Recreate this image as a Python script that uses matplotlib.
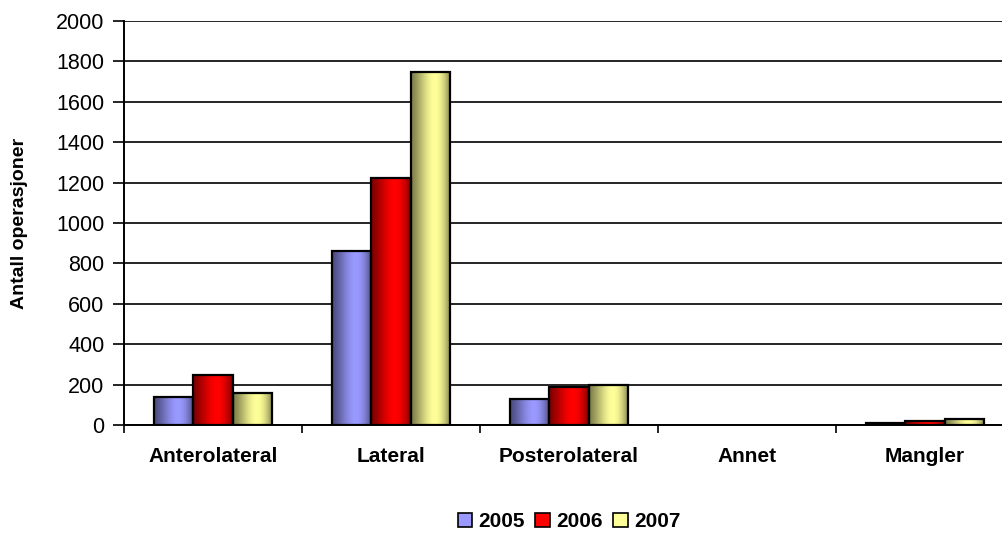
import numpy as np
import matplotlib.pyplot as plt
from matplotlib.patches import Rectangle
from matplotlib.colors import to_rgb

plt.rcParams['font.family'] = ['Liberation Sans', 'DejaVu Sans']

kategorier = ['Anterolateral', 'Lateral', 'Posterolateral', 'Annet', 'Mangler']
aar = ['2005', '2006', '2007']
v2005 = [140, 860, 130, 0, 8]
v2006 = [250, 1225, 190, 0, 20]
v2007 = [160, 1750, 200, 0, 30]
farger = ['#9999FF', '#FF0000', '#FFFF99']

fig = plt.figure(figsize=(10.03, 5.33), dpi=100)
ax = fig.add_axes([124/1003, 108/533, 890/1003, 404/533])

x = np.arange(len(kategorier))
b = 0.22
t = np.linspace(0, 1, 64)
prof = 0.5 + 0.5*np.sin(np.pi*t**1.35)

for i, (verdier, farge) in enumerate(zip([v2005, v2006, v2007], farger)):
    c = np.array(to_rgb(farge))
    img = (prof[:, None]*c[None, :])[None, :, :]
    for xi, v in zip(x, verdier):
        if v <= 0:
            continue
        x0 = xi + (i - 1.5)*b
        rect = Rectangle((x0, 0), b, v, facecolor='none', edgecolor='black', lw=1.6, zorder=4)
        ax.add_patch(rect)
        im = ax.imshow(img, extent=(x0, x0 + b, 0, v), aspect='auto', zorder=3, interpolation='bilinear')
        im.set_clip_path(rect)

ax.set_xlim(-0.5, 4.5)
ax.set_ylim(0, 2000)
ax.set_yticks(range(0, 2001, 200))
ax.set_xticks(np.arange(-0.5, 4.6, 1))
ax.set_xticklabels([])
ax.set_xticks(x, minor=True)
ax.set_xticklabels(kategorier, minor=True, fontsize=15, fontweight='bold')
ax.tick_params(axis='x', which='minor', length=0, pad=16)
ax.tick_params(axis='x', which='major', length=6, width=1.2, direction='out')
ax.tick_params(axis='y', labelsize=15.5, length=8, width=1.2, direction='out', pad=6)
ax.yaxis.grid(True, color='black', lw=1.2)
ax.set_axisbelow(True)
for s in ['top', 'right']:
    ax.spines[s].set_visible(False)
ax.spines['left'].set_linewidth(1.4)
ax.spines['bottom'].set_linewidth(1.4)
ax.set_ylabel('Antall operasjoner', fontsize=14, fontweight='bold', labelpad=20)

handles = [Rectangle((0, 0), 1, 1, facecolor=f, edgecolor='black', lw=1.2) for f in farger]
ax.legend(handles, aar, loc='center', bbox_to_anchor=(0.5, -0.24), ncol=3, frameon=False,
          prop={'weight': 'bold', 'size': 15}, handlelength=0.7, handleheight=0.7,
          handletextpad=0.3, columnspacing=0.5)

fig.savefig('out.png', dpi=100)
